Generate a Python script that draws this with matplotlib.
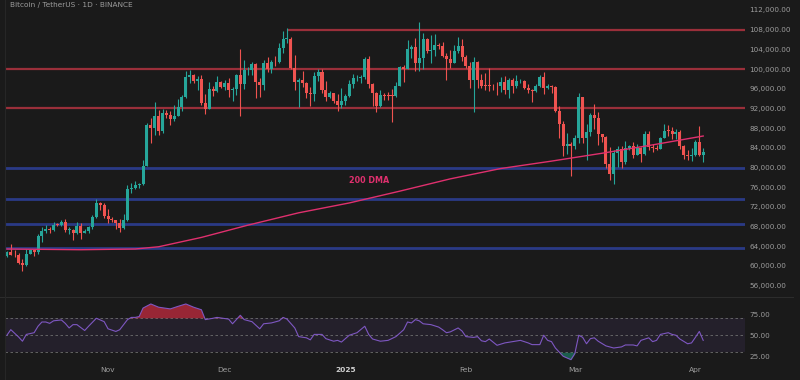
import numpy as np
import pandas as pd
import matplotlib
matplotlib.use("Agg")
import matplotlib.pyplot as plt
import matplotlib.dates as mdates

# ---------------- data ----------------
start_date = "2024-10-06"
end_date = "2025-04-03"

opens = [62080, 62820, 62220, 62130, 60580, 60270, 62450, 63190, 62850, 66050,
         67040, 67610, 67400, 68420, 68360, 69000, 67370, 67380, 66650, 68160,
         66640, 67010, 67940, 69910, 72720, 72340, 70220, 69500, 69370, 68780,
         67810, 69360, 75640, 75900, 76550, 76680, 80370, 88700, 87960, 90380,
         87330, 91070, 90590, 89860, 90460, 92310, 94290, 98350, 98890, 97670,
         97900, 93010, 91970, 95950, 95640, 97460, 96410, 97190, 95840, 96000,
         98770, 96950, 99740, 99830, 101110, 97340, 96680, 101170, 100040, 101420,
         101370, 104300, 106060, 106130, 100200, 97460, 97760, 97220, 95100, 94880,
         98680, 99400, 95800, 94280, 95160, 93530, 92640, 93580, 94590, 96880,
         98110, 98240, 98310, 102080, 96920, 95040, 92480, 94700, 94570, 94510,
         94500, 96530, 100500, 99990, 104080, 104550, 101330, 102260, 106140, 103650,
         103960, 104820, 104710, 102620, 102080, 101330, 103730, 104730, 102430, 100640,
         97690, 101410, 97870, 96620, 96550, 96530, 96480, 96470, 97430, 95780,
         97870, 96610, 97500, 97570, 96120, 95770, 95540, 96640, 98310, 96130,
         96580, 96270, 91550, 88740, 84350, 84700, 84370, 86060, 94270, 86070,
         87220, 90620, 89960, 86740, 86150, 80730, 78600, 82860, 83720, 81070,
         83970, 84340, 82580, 84010, 82720, 86850, 84170, 84040, 83830, 86080,
         87500, 87470, 86900, 87230, 84350, 82600, 82340, 82550, 85160, 82520]
highs = [62970, 64480, 63200, 62540, 61320, 63420, 63480, 63280, 66500, 67950,
         68420, 67940, 68970, 68690, 69400, 69520, 67840, 67470, 68850, 68770,
         67450, 68220, 70270, 73620, 72960, 72700, 71630, 69930, 69390, 69460,
         70580, 76400, 76950, 77200, 76950, 81500, 89000, 89960, 93270, 91760,
         91850, 91780, 91450, 92600, 94000, 94830, 99590, 99800, 98900, 98550,
         98870, 94970, 97360, 96650, 98690, 97480, 97840, 98150, 96300, 99000,
         104090, 101900, 100440, 101350, 101220, 98270, 101900, 102540, 101900, 102650,
         105250, 107780, 108350, 106520, 102800, 98150, 99540, 97400, 96420, 99450,
         99960, 99960, 97500, 95530, 95230, 94900, 96150, 94930, 97840, 98980,
         98730, 98840, 102480, 102720, 97260, 95350, 95840, 95050, 95380, 95900,
         97370, 100680, 100870, 105870, 104990, 106310, 109590, 107240, 106390, 106850,
         107120, 105290, 105470, 103220, 103780, 104800, 106460, 106090, 102780, 101460,
         102500, 101730, 99000, 99160, 100140, 96880, 97320, 98350, 98500, 98120,
         98150, 98830, 97970, 97730, 97030, 96000, 96900, 98760, 99500, 96970,
         96670, 96510, 92540, 89380, 87100, 85120, 86560, 95040, 94420, 88910,
         91000, 92810, 91280, 86850, 86470, 84120, 83620, 84360, 84300, 85310,
         84670, 85120, 84750, 84100, 87450, 87440, 84830, 84570, 86100, 88770,
         88540, 88290, 87790, 87520, 84570, 83500, 83870, 85490, 88500, 83950]
lows = [61800, 62130, 61820, 60300, 58900, 60080, 62400, 62050, 62450, 64800,
        66750, 66670, 67130, 68020, 68100, 66800, 66570, 65260, 66450, 65520,
        66600, 66750, 67550, 69730, 71430, 69690, 68780, 69010, 67460, 66800,
        67460, 69070, 74730, 75560, 75770, 76490, 80220, 85070, 86630, 86670,
        87090, 90060, 88720, 89380, 90370, 91510, 94100, 97150, 97120, 95760,
        92600, 90790, 91800, 94600, 95380, 96090, 95690, 94400, 93580, 94660,
        90500, 95980, 98850, 98890, 94150, 94260, 95680, 99310, 99210, 100610,
        101240, 103220, 105320, 100000, 95670, 92230, 96400, 94200, 92400, 93420,
        97590, 95140, 93500, 94110, 93010, 91530, 92000, 92750, 94400, 96180,
        97500, 97210, 97910, 96130, 92500, 91200, 92200, 93800, 93710, 89260,
        94320, 96480, 97300, 99940, 102280, 99520, 99550, 100080, 103340, 101260,
        102750, 104100, 102460, 97780, 100270, 101230, 103270, 101540, 100280, 96150,
        91230, 96150, 96220, 95670, 95620, 95690, 94750, 95250, 94850, 94090,
        95220, 96250, 97230, 96050, 95210, 93390, 95410, 96400, 94870, 95990,
        95230, 91350, 86050, 82260, 82720, 78260, 83820, 85040, 85080, 81530,
        86330, 87850, 84670, 85250, 80000, 77460, 76610, 80080, 79940, 80780,
        83630, 82010, 82460, 81130, 82620, 83660, 83180, 83630, 83790, 85930,
        86310, 85860, 85840, 83800, 81640, 81560, 81290, 82430, 82320, 81190]
closes = [62820, 62220, 62130, 60580, 60270, 62450, 63190, 62850, 66050, 67040,
          67610, 67400, 68420, 68360, 69000, 67370, 67380, 66650, 68160, 66640,
          67010, 67940, 69910, 72720, 72340, 70220, 69500, 69370, 68780, 67810,
          69360, 75640, 75900, 76550, 76680, 80370, 88700, 87960, 90380, 87330,
          91070, 90590, 89860, 90460, 92310, 94290, 98350, 98890, 97670, 97900,
          93010, 91970, 95950, 95640, 97460, 96410, 97190, 95840, 96000, 98770,
          96950, 99740, 99830, 101110, 97340, 96680, 101170, 100040, 101420, 101370,
          104300, 106060, 106130, 100200, 97460, 97760, 97220, 95100, 94880, 98680,
          99400, 95800, 94280, 95160, 93530, 92640, 93580, 94590, 96880, 98110,
          98240, 98310, 102080, 96920, 95040, 92480, 94700, 94570, 94510, 94500,
          96530, 100500, 99990, 104080, 104550, 101330, 102260, 106140, 103650, 103960,
          104820, 104710, 102620, 102080, 101330, 103730, 104730, 102430, 100640, 97690,
          101410, 97870, 96620, 96550, 96530, 96480, 96470, 97430, 95780, 97870,
          96610, 97500, 97570, 96120, 95770, 95540, 96640, 98310, 96130, 96580,
          96270, 91550, 88740, 84350, 84700, 84370, 86060, 94270, 86070, 87220,
          90620, 89960, 86740, 86150, 80730, 78600, 82860, 83720, 81070, 83970,
          84340, 82580, 84010, 82720, 86850, 84170, 84040, 83830, 86080, 87500,
          87470, 86900, 87230, 84350, 82600, 82340, 82550, 85160, 82520, 83100]

dma_dates = ["2024-10-06", "2024-10-25", "2024-11-08", "2024-11-14", "2024-11-25",
             "2024-12-07", "2024-12-20", "2025-01-02", "2025-01-15", "2025-01-28",
             "2025-02-10", "2025-02-23", "2025-03-08", "2025-03-21", "2025-04-03"]
dma_vals = [63450, 63300, 63450, 63900, 65800, 68300, 70800, 72800, 75200, 77700,
            79800, 81300, 82900, 84600, 86400]

rsi_dates = ["2024-10-06", "2024-10-07", "2024-10-09", "2024-10-10", "2024-10-11",
             "2024-10-13", "2024-10-14", "2024-10-15", "2024-10-16", "2024-10-17",
             "2024-10-18", "2024-10-20", "2024-10-21", "2024-10-22", "2024-10-23",
             "2024-10-24", "2024-10-26", "2024-10-27", "2024-10-29", "2024-10-31",
             "2024-11-01", "2024-11-03", "2024-11-04", "2024-11-06", "2024-11-07",
             "2024-11-08", "2024-11-09", "2024-11-10", "2024-11-12", "2024-11-14",
             "2024-11-17", "2024-11-19", "2024-11-21", "2024-11-23", "2024-11-25",
             "2024-11-26", "2024-11-28", "2024-11-29", "2024-12-02", "2024-12-03",
             "2024-12-05", "2024-12-06", "2024-12-08", "2024-12-10", "2024-12-11",
             "2024-12-13", "2024-12-15", "2024-12-16", "2024-12-17", "2024-12-19",
             "2024-12-20", "2024-12-22", "2024-12-23", "2024-12-24", "2024-12-26",
             "2024-12-27", "2024-12-29", "2024-12-30", "2024-12-31", "2025-01-02",
             "2025-01-04", "2025-01-06", "2025-01-07", "2025-01-08", "2025-01-10",
             "2025-01-12", "2025-01-14", "2025-01-16", "2025-01-17", "2025-01-18",
             "2025-01-19", "2025-01-20", "2025-01-21", "2025-01-23", "2025-01-25",
             "2025-01-26", "2025-01-27", "2025-01-28", "2025-01-30", "2025-01-31",
             "2025-02-01", "2025-02-03", "2025-02-04", "2025-02-05", "2025-02-06",
             "2025-02-07", "2025-02-09", "2025-02-11", "2025-02-13", "2025-02-15",
             "2025-02-17", "2025-02-18", "2025-02-20", "2025-02-21", "2025-02-22",
             "2025-02-23", "2025-02-24", "2025-02-26", "2025-02-28", "2025-03-01",
             "2025-03-02", "2025-03-03", "2025-03-04", "2025-03-05", "2025-03-06",
             "2025-03-07", "2025-03-09", "2025-03-11", "2025-03-13", "2025-03-14",
             "2025-03-16", "2025-03-17", "2025-03-18", "2025-03-20", "2025-03-21",
             "2025-03-22", "2025-03-23", "2025-03-25", "2025-03-26", "2025-03-27",
             "2025-03-28", "2025-03-30", "2025-03-31", "2025-04-01", "2025-04-02",
             "2025-04-03"]
rsi_vals = [50, 56.6, 48, 43, 51, 53, 60.6, 65.6, 65.6, 64,
            67, 68, 64, 58.6, 62.5, 62.5, 55.6, 60.6, 70, 66,
            57.6, 54.5, 56.5, 68.4, 71, 71, 72, 82, 86.8, 83,
            81, 84, 86.8, 83, 80, 68.4, 70, 71, 69, 63.5,
            73.5, 68.4, 66, 57.6, 63.5, 64.5, 67, 71, 69, 58.6,
            48.4, 47, 44.6, 51, 51, 46, 43, 44, 42, 50,
            53, 60.6, 51, 45.6, 43, 44, 48.4, 56.5, 65.6, 64.5,
            68.4, 67, 63.5, 62.5, 59.6, 56.5, 53, 54, 58.6, 55,
            48.4, 47.5, 48.4, 43.5, 42.5, 45.6, 38.2, 41, 42.5, 44,
            41, 39, 39, 50, 44, 42.5, 35, 25.3, 21.3, 28.5,
            50, 47.6, 40, 46, 47, 43, 37.5, 35, 36.3, 38.6,
            38.6, 37.5, 44, 47, 42.5, 44, 51, 53, 51, 50,
            45.6, 40, 41, 47.6, 54.5, 44]

red_levels = [100000, 92000]
top_level = 108000
top_level_start = "2024-12-17"
blue_levels = [80000, 73700, 68450, 63550]
price_ticks = list(range(56000, 112001, 4000))
rsi_ticks = [25, 50, 75]
month_ticks = ["2024-11-01", "2024-12-01", "2025-01-01", "2025-02-01", "2025-03-01", "2025-04-01"]
month_labels = ["Nov", "Dec", "2025", "Feb", "Mar", "Apr"]
title_text = "Bitcoin / TetherUS · 1D · BINANCE"

# ---------------- style ----------------
BG = "#1a1a1a"
UP = "#26a69a"
DOWN = "#ef5350"
TXT = "#9c9c9c"

W, H = 800, 380
fig = plt.figure(figsize=(8, 3.8), dpi=100, facecolor=BG)

def fx(px):
    return px / W

def fy(py):
    return 1 - py / H

ax = fig.add_axes([fx(5), fy(296), fx(740), 296 / H])
axr = fig.add_axes([fx(5), fy(364), fx(740), (364 - 297) / H])
for a in (ax, axr):
    a.set_facecolor(BG)
    for s in a.spines.values():
        s.set_visible(False)

dates = mdates.date2num(pd.date_range(start_date, end_date, freq="D"))
o = np.array(opens, float)
h = np.array(highs, float)
l = np.array(lows, float)
c = np.array(closes, float)
up = c >= o
cols = np.where(up, UP, DOWN)

# levels
x0 = dates[0] - 1
x1 = dates[-1] + 30
for lv in red_levels:
    ax.plot([x0, x1], [lv, lv], color="#9a2f3a", lw=1.6, solid_capstyle="butt", zorder=1)
ts = mdates.date2num(pd.Timestamp(top_level_start))
ax.plot([ts, x1], [top_level, top_level], color="#9a2f3a", lw=1.6, solid_capstyle="butt", zorder=1)
for lv in blue_levels:
    ax.plot([x0, x1], [lv, lv], color="#2a3a86", lw=2.0, solid_capstyle="butt", zorder=1)

# candles
ax.vlines(dates, l, h, colors=cols, lw=0.8, zorder=3)
body_lo = np.minimum(o, c)
body_h = np.maximum(np.abs(c - o), 150)
ax.bar(dates, body_h, bottom=body_lo, width=0.78, color=cols, edgecolor=cols, lw=0, zorder=4)

# 200 DMA
dd = mdates.date2num(pd.to_datetime(dma_dates))
ax.plot(dd, dma_vals, color="#e0306e", lw=1.0, zorder=5)
ax.text(mdates.date2num(pd.Timestamp("2025-01-07")), 77300, "200 DMA", color="#e0306e",
        fontsize=5.8, fontweight="bold", ha="center", va="center", zorder=6)

left = dates[0] - (6.9 - 5) / 3.89
right = dates[0] + (745 - 6.9) / 3.89
ax.set_xlim(left, right)
ax.set_ylim(53900, 114030)
ax.yaxis.tick_right()
ax.set_yticks(price_ticks)
ax.set_yticklabels([f"{t:,.2f}" for t in price_ticks])
ax.tick_params(axis="y", length=0, pad=3, labelsize=5.2, labelcolor=TXT)
ax.set_xticks([])

# RSI pane
rd = mdates.date2num(pd.to_datetime(rsi_dates))
rv = np.array(rsi_vals, float)
axr.axhspan(30, 70, color="#7e57c2", alpha=0.10, lw=0, zorder=0)
for lv in (70, 50, 30):
    axr.axhline(lv, color="#6e6e6e", lw=0.6, ls=(0, (3, 3)), zorder=1)
axr.fill_between(rd, 70, rv, where=rv >= 70, interpolate=True, color="#b82a3c", alpha=0.8, lw=0, zorder=2)
axr.fill_between(rd, 30, rv, where=rv <= 30, interpolate=True, color="#1e8a72", alpha=0.6, lw=0, zorder=2)
axr.plot(rd, rv, color="#7e57c2", lw=0.8, zorder=3)
axr.set_xlim(left, right)
axr.set_ylim(16.2, 95.0)
axr.yaxis.tick_right()
axr.set_yticks(rsi_ticks)
axr.set_yticklabels([f"{t:.2f}" for t in rsi_ticks])
axr.tick_params(axis="y", length=0, pad=3, labelsize=5.2, labelcolor=TXT)
mt = mdates.date2num(pd.to_datetime(month_ticks))
axr.set_xticks(mt)
axr.set_xticklabels(month_labels)
axr.tick_params(axis="x", length=0, pad=2.5, labelsize=5.4, labelcolor=TXT)
for lab in axr.get_xticklabels():
    if lab.get_text() == "2025":
        lab.set_fontweight("bold")
        lab.set_color("#d0d0d0")

# pane separator and frame lines
fig.add_artist(plt.Line2D([0, fx(793)], [fy(296.5), fy(296.5)], color="#2c2c2c", lw=0.8))
fig.add_artist(plt.Line2D([fx(4.5), fx(4.5)], [0, 1], color="#262626", lw=0.8))

fig.text(fx(10), fy(7.5), title_text, color=TXT, fontsize=5.3, ha="left", va="baseline")

fig.savefig("out.png", dpi=100, facecolor=BG)
